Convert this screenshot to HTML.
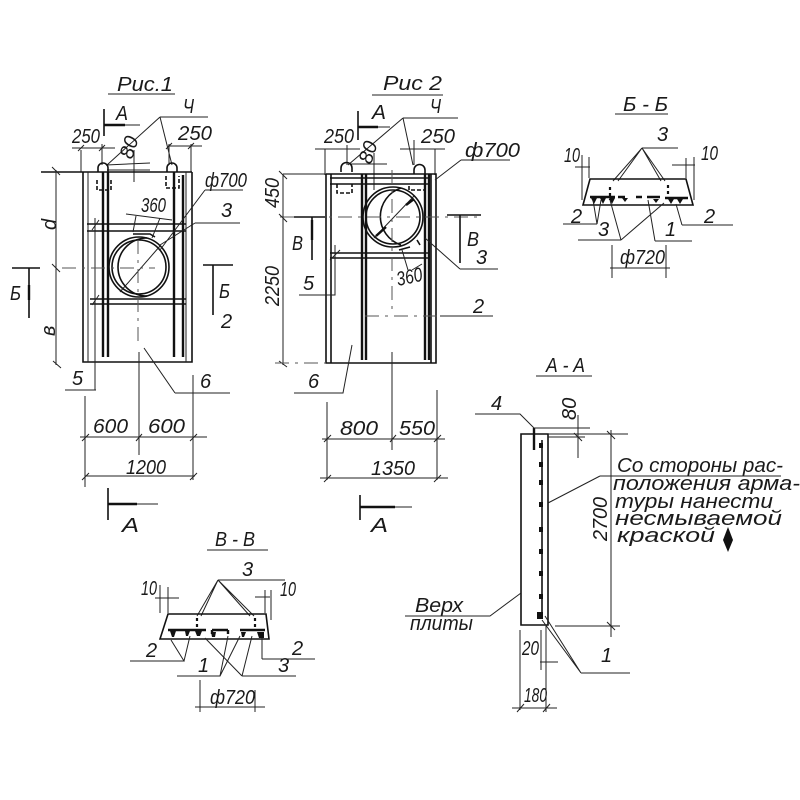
<!DOCTYPE html>
<html><head><meta charset="utf-8"><style>
html,body{margin:0;padding:0;background:#fff}
svg{display:block}
text{font-family:"Liberation Sans",sans-serif;font-style:italic;fill:#1a1a1a;font-size:20px}
.l{stroke:#222;stroke-width:1;fill:none}
.m{stroke:#111;stroke-width:1.6;fill:none}
.b{stroke:#111;stroke-width:2.4;fill:none}
.c{stroke:#555;stroke-width:1;fill:none;stroke-dasharray:14 6 3 6}
.d{stroke:#111;stroke-width:2.2;fill:none;stroke-dasharray:3 3}
</style></head><body>
<svg width="800" height="800" viewBox="0 0 800 800" xmlns="http://www.w3.org/2000/svg">
<rect width="800" height="800" fill="#fff"/>

<!-- FIG 1 -->
<text x="117" y="91" textLength="56" lengthAdjust="spacingAndGlyphs" font-size="23">Рис.1</text>
<path class="l" d="M108 94H175"/>
<path class="m" d="M104 109V136"/><path class="l" d="M104 125H140"/><path class="b" d="M104 125H125"/>
<text x="116" y="120" font-size="20" textLength="12" lengthAdjust="spacingAndGlyphs">А</text>
<text x="183" y="113" font-size="20" textLength="11" lengthAdjust="spacingAndGlyphs">Ч</text>
<path class="l" d="M160 117H208M160 117L107 165M160 117L172 165"/>
<text x="72" y="143" textLength="28" lengthAdjust="spacingAndGlyphs" font-size="18">250</text>
<text x="178" y="140" textLength="34" lengthAdjust="spacingAndGlyphs" font-size="19">250</text>
<path class="l" d="M72 148H115M168 146H202M81 150V172M102 144V165M169 144V165M191 144V172M78 151L84 145M99 151L105 145M166 149L172 143M188 149L194 143"/>
<text transform="translate(132,160) rotate(-72)" font-size="14">80</text>
<path class="l" d="M106 165L150 163M107 170H150M134 150V182"/>
<!-- hooks -->
<path class="m" d="M98 172V168A5 5 0 0 1 108 168V172M167 172V168A5 5 0 0 1 177 168V172"/>
<path class="m" d="M97 180V190H111V180M166 176V188H179V176" stroke-dasharray="4 2"/>
<!-- plate -->
<path class="m" d="M83 172V362H192V172M41 172H192"/>
<path class="l" d="M88 172V362M186 172V362"/>
<path class="b" d="M103 172V357M108 172V357M174 172V357M183 175V357"/>
<path class="m" d="M87 224H186M87 231H186M90 299H186M90 304H186"/>
<path class="l" d="M95 218V390M96 390H65M92 230L99 220M92 305L99 295"/>
<!-- circle -->
<circle class="m" cx="139" cy="267" r="30"/><circle class="m" cx="139" cy="267" r="27"/>
<path class="m" d="M147 238A29 29 0 0 0 147 296"/>
<path class="l" d="M120 292L160 246M205 190H243M205 190L160 250M195 223H240M195 223L160 245"/>
<path class="c" d="M62 268H155M138 240V345"/>
<text x="205" y="187" textLength="42" lengthAdjust="spacingAndGlyphs" font-size="19">ф700</text>
<text x="221" y="217" font-size="21">3</text>
<text x="141" y="212" textLength="25" lengthAdjust="spacingAndGlyphs" font-size="17">360</text>
<path class="l" d="M126 214L172 220M136 216L133 232M160 218L152 238"/>
<path class="m" d="M133 234H150L155 237"/>
<!-- left dim -->
<path class="l" d="M56 170V365M52 167L60 175M52 264L60 272M53 361L61 368"/>
<text transform="translate(56,230) rotate(-90)" font-size="20">d</text>
<text transform="translate(55,336) rotate(-90)" font-size="20">в</text>
<path class="m" d="M12 268H40M29 268V318M203 265H233M213 265V315"/>
<path class="b" d="M29 285V300"/>
<text x="10" y="300" font-size="21" textLength="11" lengthAdjust="spacingAndGlyphs">Б</text>
<text x="219" y="298" font-size="21" textLength="11" lengthAdjust="spacingAndGlyphs">Б</text>
<text x="221" y="328" font-size="20">2</text>
<text x="72" y="385" font-size="20">5</text>
<text x="200" y="388" font-size="20">6</text>
<path class="l" d="M175 393H230M175 393L144 348"/>
<path class="l" d="M85 396V487M139 352V455M193 375V480M80 437H207M85 476H195M82 441L89 434M136 441L142 434M190 441L197 434M82 480L89 473M190 480L197 473"/>
<text x="93" y="433" textLength="35" lengthAdjust="spacingAndGlyphs" font-size="21">600</text>
<text x="148" y="433" textLength="37" lengthAdjust="spacingAndGlyphs" font-size="21">600</text>
<text x="126" y="474" textLength="40" lengthAdjust="spacingAndGlyphs" font-size="21">1200</text>
<path class="m" d="M108 488V520"/><path class="l" d="M108 504H158"/><path class="b" d="M108 504H137"/>
<text x="122" y="532" textLength="17" lengthAdjust="spacingAndGlyphs" font-size="27">А</text>

<!-- FIG 2 -->
<text x="383" y="90" textLength="59" lengthAdjust="spacingAndGlyphs" font-size="23">Рис 2</text>
<path class="l" d="M372 95H443"/>
<path class="m" d="M358 111V140"/><path class="l" d="M358 127H390"/><path class="b" d="M358 127H378"/>
<text x="372" y="119" font-size="21" textLength="14" lengthAdjust="spacingAndGlyphs">А</text>
<text x="430" y="113" font-size="20" textLength="11" lengthAdjust="spacingAndGlyphs">Ч</text>
<path class="l" d="M403 118H458M403 118L348 165M403 118L413 165"/>
<text x="324" y="143" textLength="30" lengthAdjust="spacingAndGlyphs" font-size="18">250</text>
<text x="421" y="143" textLength="34" lengthAdjust="spacingAndGlyphs" font-size="19">250</text>
<path class="l" d="M315 149H360M400 149H445M325 149V175M347 145V165M414 140V165M435 149V175"/>
<text transform="translate(371,165) rotate(-72)" font-size="15">80</text>
<path class="l" d="M350 164H387M374 153V190"/>
<path class="m" d="M341 172V168A5.500 5.500 0 0 1 352 168V172M414 174V170A5.500 5.500 0 0 1 425 170V174"/>
<path class="m" d="M337 184V193H352V184M409 186V190H425V184" stroke-dasharray="4 2"/>
<path class="m" d="M326 174V363H436V174H326"/>
<path class="m" d="M331 174V363M431 174V363M330 178H430M330 184H430M330 253H430M330 258H430"/>
<path class="b" d="M362 174V360M366 174V360M425 174V360M429 174V360"/>
<circle class="m" cx="393" cy="217" r="30"/><circle class="m" cx="393" cy="217" r="27"/>
<path class="m" d="M401 188A30 30 0 0 0 401 245"/>
<path class="l" d="M374 238L414 196"/>
<path class="b" d="M376 236L386 227M406 205L414 199"/>
<path class="c" d="M280 217H481M392 170V312"/>
<path class="l" d="M392 352V450"/>
<path class="l" d="M461 160H510M461 160L435 180"/>
<text x="465" y="157" textLength="55" lengthAdjust="spacingAndGlyphs" font-size="20">ф700</text>
<path class="m" d="M294 217H325M312 217V260M447 215H481M460 215V263"/>
<path class="b" d="M312 220V240"/>
<text x="292" y="250" font-size="21" textLength="11" lengthAdjust="spacingAndGlyphs">В</text>
<text x="467" y="246" font-size="22" textLength="12" lengthAdjust="spacingAndGlyphs">В</text>
<text x="476" y="264" font-size="22">3</text>
<path class="l" d="M460 269H498M460 269L425 238"/>
<text transform="translate(398,286) rotate(-12)" font-size="16" textLength="26" lengthAdjust="spacingAndGlyphs">360</text>
<path class="m" d="M399 250L410 247M417 240L420 245"/>
<path class="l" d="M402 250L408 270M412 270L422 264"/>
<text x="303" y="290" font-size="20">5</text>
<path class="l" d="M299 295H335V245M330 260L340 250"/>
<text x="473" y="313" font-size="20">2</text>
<path class="l" d="M440 316H493"/>
<path class="c" d="M365 316H440"/>
<path class="l" d="M283 174V365M279 171L287 179M279 214L287 222M279 361L287 367M283 174H326"/>
<path class="c" d="M275 363H326"/>
<text transform="translate(279,208) rotate(-90)" font-size="19" textLength="30" lengthAdjust="spacingAndGlyphs">450</text>
<text transform="translate(279,306) rotate(-90)" font-size="19" textLength="40" lengthAdjust="spacingAndGlyphs">2250</text>
<text x="308" y="388" font-size="20">6</text>
<path class="l" d="M294 393H343L352 345"/>
<path class="l" d="M327 402V480M437 390V480M392 352V450M322 439H445M320 478H448M324 442L331 435M390 442L396 435M434 442L441 435M324 482L331 475M434 482L441 475"/>
<text x="340" y="435" textLength="38" lengthAdjust="spacingAndGlyphs" font-size="21">800</text>
<text x="399" y="435" textLength="36" lengthAdjust="spacingAndGlyphs" font-size="21">550</text>
<text x="371" y="475" textLength="44" lengthAdjust="spacingAndGlyphs" font-size="21">1350</text>
<path class="m" d="M360 495V520"/><path class="l" d="M360 507H412"/><path class="b" d="M360 507H395"/>
<text x="371" y="532" textLength="17" lengthAdjust="spacingAndGlyphs" font-size="24">А</text>

<!-- Б-Б -->
<text x="623" y="111" textLength="45" lengthAdjust="spacingAndGlyphs" font-size="20">Б - Б</text>
<path class="l" d="M615 114H668"/>
<text x="657" y="141" font-size="21">3</text>
<path class="l" d="M642 148H678M642 148L613 181M642 148L618 181M642 148L661 181M642 148L665 181"/>
<text x="564" y="162" textLength="16" lengthAdjust="spacingAndGlyphs" font-size="20">10</text>
<text x="701" y="160" textLength="17" lengthAdjust="spacingAndGlyphs" font-size="20">10</text>
<path class="l" d="M582 155V200M589 157V178M686 158V178M694 157V200M575 167H590M672 165H695"/>
<path class="m" d="M590 179H686L693 205H583Z"/>
<path class="d" d="M610 187V200M668 185V197" stroke-width="3"/>
<path class="b" d="M590 197H615M618 197H625M636 197H642M647 197H660M665 198H688"/>
<path d="M591 198h6l-3 6zM600 198h6l-3 6zM609 198h6l-3 6zM622 198h6l-3 4zM653 199h6l-3 4zM668 199h6l-3 5zM677 199h6l-3 5z" fill="#111"/>
<text x="571" y="223" font-size="20">2</text>
<path class="l" d="M563 224H597M597 224L593 200M597 224L601 200"/>
<text x="598" y="236" font-size="21">3</text>
<path class="l" d="M578 240H621M621 240L610 200M621 240L664 203"/>
<text x="665" y="236" font-size="20">1</text>
<path class="l" d="M655 241H692M655 241L648 200"/>
<text x="704" y="223" font-size="20">2</text>
<path class="l" d="M682 225H733M682 225L676 204"/>
<text x="620" y="264" textLength="45" lengthAdjust="spacingAndGlyphs" font-size="20">ф720</text>
<path class="l" d="M610 268H670M612 245V278M666 245V278"/>

<!-- В-В -->
<text x="215" y="546" textLength="40" lengthAdjust="spacingAndGlyphs" font-size="20">В - В</text>
<path class="l" d="M207 550H268"/>
<text x="242" y="576" font-size="21">3</text>
<path class="l" d="M218 580H285M218 580L197 616M218 580L201 616M218 580L250 616M218 580L254 616"/>
<text x="141" y="595" textLength="16" lengthAdjust="spacingAndGlyphs" font-size="20">10</text>
<text x="280" y="596" textLength="16" lengthAdjust="spacingAndGlyphs" font-size="20">10</text>
<path class="l" d="M160 585V613M168 587V613M265 590V613M271 590V620M155 598H179M255 597H270"/>
<path class="m" d="M168 614H266L269 639H160Z"/>
<path class="d" d="M197 618V628M255 618V628" stroke-width="3"/>
<path class="b" d="M168 630H206M212 630H228M240 630H265M212 630V634M228 630V634"/>
<path d="M170 631h6l-2 6h-2zM185 631h5l-2 5h-2zM195 631h7l-2 5h-3zM211 632h5l-1 5h-3zM241 632h5l-2 5h-2zM257 632h7v6h-5z" fill="#111"/>
<text x="146" y="657" font-size="20">2</text>
<path class="l" d="M130 661H184L171 640M184 661L190 636"/>
<text x="292" y="655" font-size="20">2</text>
<path class="l" d="M262 659H315M262 659V638"/>
<text x="198" y="672" font-size="20">1</text>
<path class="l" d="M177 676H220L228 636M220 676L240 636"/>
<text x="278" y="672" font-size="20">3</text>
<path class="l" d="M242 676H296M242 676L205 638M242 676L252 636"/>
<text x="210" y="704" textLength="45" lengthAdjust="spacingAndGlyphs" font-size="20">ф720</text>
<path class="l" d="M195 707H265M200 680V712M255 690V712"/>

<!-- А-А -->
<text x="546" y="372" textLength="39" lengthAdjust="spacingAndGlyphs" font-size="23">А - А</text>
<path class="l" d="M536 376H592"/>
<text x="491" y="410" font-size="20">4</text>
<path class="l" d="M475 414H520L534 428"/>
<path class="m" d="M521 434H548V625H521Z"/>
<path class="b" d="M534 428V450"/>
<path class="m" d="M542 440V618"/>
<path d="M539 443h4v5h-4zM539 462h4v5h-4zM539 480h4v5h-4zM539 502h4v5h-4zM539 527h4v5h-4zM539 549h4v5h-4zM539 571h4v5h-4zM539 594h4v5h-4zM537 612h6v7h-6z" fill="#111"/>
<text transform="translate(576,420) rotate(-90)" font-size="13">80</text>
<path class="l" d="M534 428H590M548 437H585M578 415V458M574 433L582 441"/>
<path class="l" d="M611 430V637M548 434H628M555 626H620M607 431L615 439M607 622L615 630"/>
<text transform="translate(607,541) rotate(-90)" font-size="20" textLength="44" lengthAdjust="spacingAndGlyphs">2700</text>
<text x="617" y="472" textLength="166" lengthAdjust="spacingAndGlyphs" font-size="19">Со стороны рас-</text>
<path class="l" d="M600 476H781M600 476L548 503"/>
<text x="613" y="490" textLength="187" lengthAdjust="spacingAndGlyphs" font-size="19">положения арма-</text>
<text x="615" y="508" textLength="158" lengthAdjust="spacingAndGlyphs" font-size="19">туры нанести</text>
<text x="615" y="525" textLength="167" lengthAdjust="spacingAndGlyphs" font-size="19">несмываемой</text>
<text x="617" y="542" textLength="98" lengthAdjust="spacingAndGlyphs" font-size="19">краской</text>
<path d="M728 527L733 540L728 552L723 540Z" fill="#111"/>
<text x="415" y="612" textLength="48" lengthAdjust="spacingAndGlyphs" font-size="19">Верх</text>
<path class="l" d="M405 616H490L521 593"/>
<text x="410" y="630" textLength="63" lengthAdjust="spacingAndGlyphs" font-size="19">плиты</text>
<path class="l" d="M520 630V710M541 630V670M546 625V712M540 662H558M512 708H557M517 712L524 704M543 712L550 704"/>
<text x="522" y="655" textLength="17" lengthAdjust="spacingAndGlyphs" font-size="17">20</text>
<text x="524" y="702" textLength="23" lengthAdjust="spacingAndGlyphs" font-size="17">180</text>
<text x="601" y="662" font-size="20">1</text>
<path class="l" d="M581 673H630M581 673L545 616M581 673L542 620"/>
</svg>
</body></html>
